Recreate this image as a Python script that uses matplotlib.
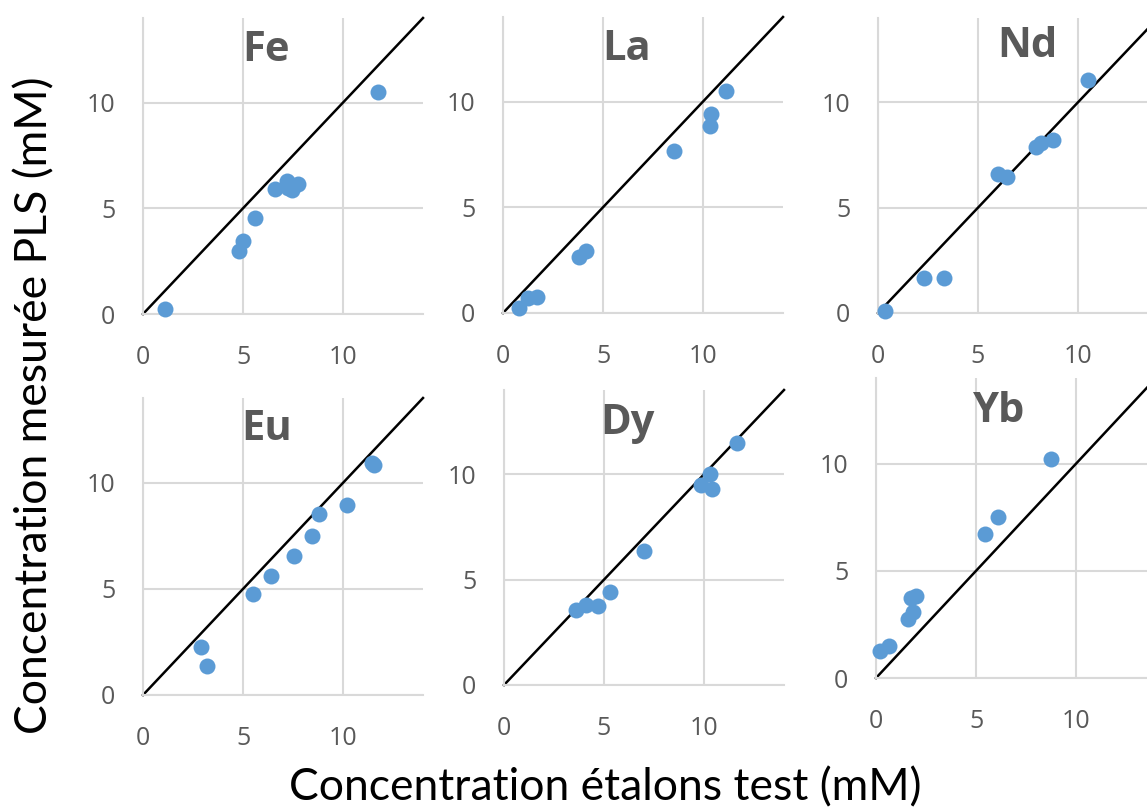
import numpy as np
import matplotlib
matplotlib.use("Agg")
import matplotlib.pyplot as plt

# values (x = étalon, y = PLS)
elements = ["Fe", "La", "Nd", "Eu", "Dy", "Yb"]

fe_x = [1.1, 4.8, 5.0, 5.6, 6.6, 7.2, 7.25, 7.45, 7.75, 11.75]
fe_y = [0.24, 3.0, 3.45, 4.55, 5.9, 6.3, 5.95, 5.85, 6.14, 10.5]

la_x = [0.8, 1.25, 1.7, 3.8, 4.15, 8.55, 10.35, 10.4, 11.15]
la_y = [0.25, 0.7, 0.75, 2.65, 2.95, 7.65, 8.85, 9.4, 10.5]

nd_x = [0.35, 2.3, 3.3, 6.0, 6.45, 7.9, 8.15, 8.75, 10.5]
nd_y = [0.08, 1.67, 1.67, 6.6, 6.45, 7.9, 8.05, 8.2, 11.05]

eu_x = [2.9, 3.2, 5.5, 6.4, 7.55, 8.45, 8.8, 10.2, 11.45, 11.55]
eu_y = [2.25, 1.35, 4.75, 5.6, 6.55, 7.5, 8.55, 8.95, 10.95, 10.85]

dy_x = [3.6, 4.1, 4.7, 5.3, 7.0, 9.85, 10.3, 10.4, 11.65]
dy_y = [3.55, 3.8, 3.75, 4.4, 6.35, 9.5, 10.0, 9.3, 11.5]

yb_x = [0.2, 0.65, 1.6, 1.85, 1.75, 2.0, 5.45, 6.1, 8.75]
yb_y = [1.25, 1.5, 2.75, 3.1, 3.75, 3.85, 6.7, 7.5, 10.2]

data_x = [fe_x, la_x, nd_x, eu_x, dy_x, yb_x]
data_y = [fe_y, la_y, nd_y, eu_y, dy_y, yb_y]

ticks = [0, 5, 10]
lim = 14

W, H = 1147, 810
# panel boxes in pixels: left, top, bottom
boxes = [(143, 18, 314), (503, 17, 313), (878, 18, 313),
         (143, 398, 695), (504, 390, 685), (876, 378, 678)]
title_pos = [(0.44, 0.89), (0.44, 0.89), (0.535, 0.905),
             (0.44, 0.895), (0.44, 0.885), (0.44, 0.887)]

grey = "#595959"
grid = "#d9d9d9"
blue = "#5b9bd5"

fig = plt.figure(figsize=(W / 100, H / 100), dpi=100)

for i, name in enumerate(elements):
    left, top, bot = boxes[i]
    ax = fig.add_axes([left / W, 1 - bot / H, 280 / W, (bot - top) / H])
    ax.set_xlim(0, lim)
    ax.set_ylim(0, lim)
    ax.set_xticks(ticks)
    ax.set_yticks(ticks)
    for s in ["top", "right"]:
        ax.spines[s].set_visible(False)
    for s in ["left", "bottom"]:
        ax.spines[s].set_color(grid)
        ax.spines[s].set_linewidth(1.5)
    ax.grid(True, color=grid, linewidth=1.5)
    ax.set_axisbelow(True)
    ax.tick_params(length=0, labelsize=18, colors=grey)
    ax.tick_params(axis="x", pad=22)
    ax.tick_params(axis="y", pad=20)
    for lab in ax.get_xticklabels() + ax.get_yticklabels():
        lab.set_family("Open Sans")
    ax.plot([0, lim], [0, lim], color="black", linewidth=1.8, zorder=2,
            clip_on=False)
    ax.plot(data_x[i], data_y[i], "o", color=blue, markersize=11.5,
            markeredgewidth=0, zorder=3, clip_on=False)
    tx, ty = title_pos[i]
    ax.text(tx, ty, name, transform=ax.transAxes, ha="center", va="center",
            fontsize=30, fontweight="bold", color=grey, family="Open Sans")

fig.text(35 / W, 1 - 405 / H, "Concentration mesurée PLS (mM)", rotation=90,
         ha="center", va="center", fontsize=32, family="Lato")
fig.text(605 / W, 1 - 788 / H, "Concentration étalons test (mM)",
         ha="center", va="center", fontsize=32, family="Lato")

fig.savefig("out.png", dpi=100)
